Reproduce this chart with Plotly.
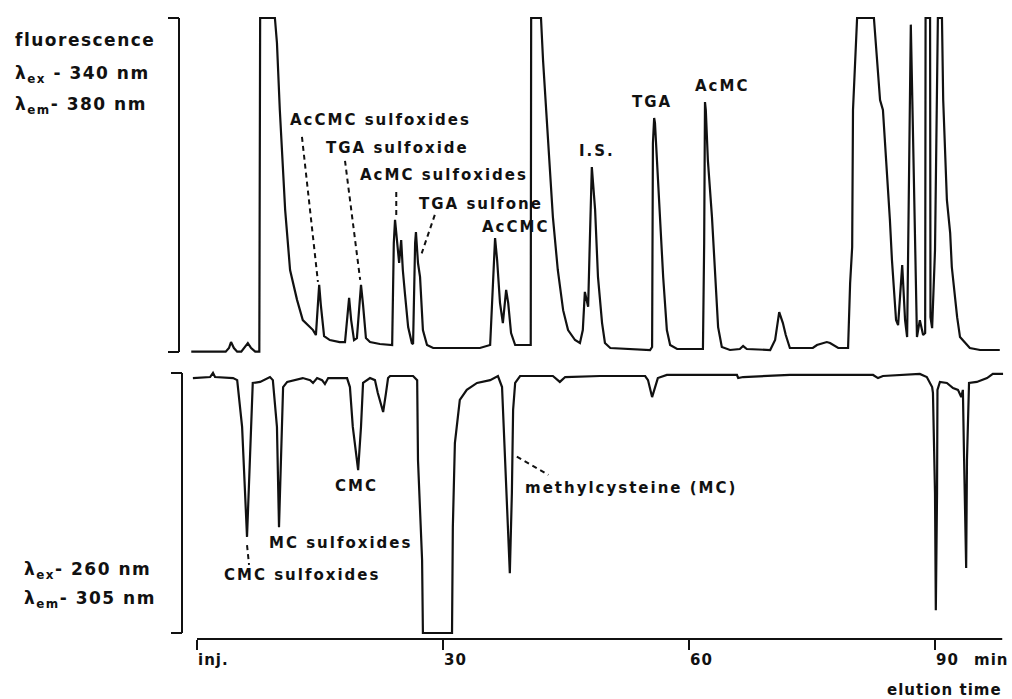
import plotly.graph_objects as go

W, H = 1012, 699
PLOT_H = 639  # plot area height (bottom margin 60)

# ---------------- data: fluorescence trace (upper) ----------------
# elution time in min, signal in % of recorder full scale (100 = off scale)
fl_time = [
    -0.7, 3.5, 3.9, 4.15, 4.5, 4.9, 5.4, 5.85, 6.2, 6.6,
    7.1, 7.6, 7.7, 9.5, 9.75, 10.1, 10.75, 11.35, 12.2, 12.9,
    14.15, 14.5, 14.75, 14.9, 15.1, 15.5, 16.2, 17.4, 18.05, 18.3,
    18.55, 18.8, 19.15, 19.5, 19.75, 20.0, 20.25, 20.6, 21.1, 22.3,
    23.8, 24.0, 24.15, 24.4, 24.65, 24.9, 25.1, 25.35, 25.75, 26.2,
    26.35, 26.6, 26.7, 26.95, 27.2, 27.55, 28.05, 28.8, 34.5, 35.75,
    36.1, 36.35, 36.6, 36.95, 37.3, 37.55, 37.7, 37.95, 38.3, 38.8,
    40.35, 40.7, 40.75, 41.95, 42.2, 42.7, 43.05, 43.4, 44.0, 44.65,
    45.25, 46.1, 46.7, 47.05, 47.3, 47.55, 47.7, 47.9, 48.15, 48.3,
    48.55, 48.9, 49.4, 49.75, 50.4, 55.25, 55.5, 55.6, 55.75, 55.85,
    56.1, 56.45, 56.85, 57.3, 57.7, 58.55, 61.7, 61.85, 61.95, 62.05,
    62.3, 62.8, 63.2, 63.55, 64.0, 65.0, 66.2, 66.6, 67.05, 69.9,
    70.5, 71.0, 71.45, 71.8, 72.3, 75.1, 75.6, 76.8, 77.2, 78.2,
    79.4, 79.65, 79.9, 80.0, 80.5, 82.55, 83.3, 83.65, 84.5, 84.75,
    85.25, 85.5, 86.0, 86.35, 86.6, 86.8, 87.05, 87.3, 87.55, 87.8,
    88.15, 88.55, 88.8, 88.85, 89.4, 89.45, 89.65, 90.0, 90.35, 90.85,
    91.0, 91.45, 91.85, 92.05, 92.7, 93.05, 94.25, 95.5, 97.9,
]
fl_signal = [
    -0.5, -0.5, 0.6, 2.4, 0.6, -0.5, -0.5, 0.9, 2.1, 0.6,
    -0.5, -0.5, 100, 100, 92.5, 72.3, 42.2, 24.1, 15.1, 9.0,
    6.0, 4.5, 15.1, 19.6, 13.6, 4.2, 3.0, 2.4, 2.4, 9.0,
    15.7, 9.0, 3.0, 3.6, 12.0, 19.6, 13.6, 3.6, 2.4, 1.8,
    1.5, 32.2, 39.2, 32.2, 26.2, 33.1, 24.1, 17.2, 6.9, 2.1,
    1.8, 32.2, 35.5, 26.2, 22.0, 6.0, 1.5, 0.6, 0.6, 1.5,
    22.0, 33.7, 27.1, 14.2, 8.1, 16.0, 18.1, 14.2, 5.1, 1.5,
    1.5, 1.5, 100, 100, 87.3, 67.2, 52.1, 40.1, 24.1, 12.0,
    6.0, 3.0, 2.1, 6.0, 17.5, 15.1, 13.0, 32.2, 55.1, 50.3,
    42.2, 22.0, 8.1, 2.1, 0.6, 0.0, 0.9, 62.3, 69.9, 68.4,
    57.2, 42.2, 22.0, 6.0, 1.5, 0.3, 0.3, 32.2, 74.7, 72.3,
    57.2, 40.1, 22.0, 6.9, 0.9, 0.0, 0.3, 1.2, 0.3, 0.0,
    3.0, 11.4, 8.1, 4.5, 0.6, 0.6, 1.5, 2.4, 2.1, 0.6,
    0.6, 20.2, 31.0, 72.3, 100, 100, 75.3, 72.3, 39.2, 27.1,
    9.0, 7.5, 25.6, 9.0, 3.9, 40.0, 98.0, 67.2, 36.0, 3.9,
    9.0, 4.5, 5.1, 100, 100, 9.9, 6.6, 30.0, 100, 100,
    75.3, 45.2, 35.2, 25.0, 9.9, 3.9, 0.6, 0.0, 0.0,
]

# ---------------- data: UV/fluorescence trace (lower, inverted) ----------------
uv_time = [
    -0.5, 1.6, 1.95, 2.2, 4.4, 4.9, 5.5, 5.85, 6.1, 6.45,
    6.7, 6.8, 7.7, 8.9, 9.25, 9.75, 10.0, 10.35, 10.5, 11.0,
    12.9, 13.8, 14.15, 14.65, 15.25, 15.6, 16.0, 18.3, 18.65, 19.0,
    19.65, 20.0, 20.25, 21.1, 21.7, 22.05, 22.7, 23.05, 23.3, 23.55,
    26.35, 26.85, 26.95, 27.45, 27.55, 31.1, 31.2, 31.45, 32.05, 32.9,
    34.15, 35.75, 36.7, 37.2, 37.55, 37.95, 38.15, 38.4, 38.55, 38.8,
    39.4, 43.4, 44.25, 44.9, 49.15, 54.65, 55.0, 55.5, 55.85, 56.2,
    57.3, 65.85, 66.0, 66.6, 72.3, 82.45, 83.05, 83.65, 88.15, 89.0,
    89.65, 89.75, 90.0, 90.1, 90.25, 90.3, 90.6, 91.45, 92.2, 92.8,
    93.2, 93.4, 93.55, 93.8, 93.9, 94.15, 95.1, 96.35, 97.05, 98.3,
]
uv_signal = [
    -0.8, -0.4, 1.2, -0.4, -0.8, -1.6, -19.8, -45.5, -62.6, -32.7,
    -6.6, -2.7, -2.3, -0.4, -1.6, -19.8, -58.8, -19.8, -4.3, -2.3,
    -0.8, -1.6, -2.7, -0.8, -1.6, -3.1, -0.8, -0.8, -4.3, -19.8,
    -36.6, -19.8, -2.7, -0.8, -1.6, -6.6, -14.0, -6.6, -0.8, 0.0,
    0.0, -1.6, -32.7, -71.6, -100, -100, -58.8, -26.1, -9.3, -5.4,
    -2.7, -1.6, 0.0, -4.3, -32.7, -58.8, -76.7, -45.5, -13.2, -2.7,
    0.0, 0.0, -2.3, -0.4, 0.0, 0.0, -1.6, -8.2, -4.3, -0.8,
    0.4, 0.4, -0.8, -0.4, 0.4, 0.4, -0.8, 0.0, 0.8, -0.4,
    -4.3, -6.6, -45.5, -91.1, -45.5, -5.4, -2.3, -2.7, -4.7, -5.4,
    -8.2, -5.4, -32.7, -74.7, -32.7, -2.7, -2.3, -0.8, 0.8, 0.8,
]
assert len(fl_time) == len(fl_signal), (len(fl_time), len(fl_signal))
assert len(uv_time) == len(uv_signal), (len(uv_time), len(uv_signal))

# ---------------- labels ----------------
tick_vals = [0, 30, 60, 90]
tick_text = ["inj.", "30", "60", "90"]

upper_labels = ["AcCMC sulfoxides", "TGA sulfoxide", "AcMC sulfoxides", "TGA sulfone",
                "AcCMC", "I.S.", "TGA", "AcMC"]
upper_label_t = [11.1, 15.5, 19.6, 26.8, 34.5, 46.3, 52.8, 60.5]
upper_label_v = [69.3, 60.8, 52.7, 44.0, 37.0, 59.9, 74.7, 79.5]

lower_labels = ["CMC", "MC sulfoxides", "CMC sulfoxides", "methylcysteine (MC)"]
lower_label_t = [16.6, 8.5, 3.05, 39.75]
lower_label_v = [-42.8, -65.0, -77.4, -43.6]

# leader lines: (t0, v0, t1, v1)
upper_leaders = [(12.8, 64.2, 14.75, 20.5), (18.05, 57.0, 19.9, 21.1),
                 (24.3, 47.6, 24.3, 39.8), (29.0, 40.7, 27.4, 29.1)]
lower_leaders = [(6.1, -65.8, 6.35, -73.5), (39.0, -31.4, 42.85, -38.5)]

# ---------------- layout helpers ----------------
FONT = "DejaVu Sans"
INK = "#111111"


def pxx(p):
    return p / W


def pxy(p):
    return (PLOT_H - p) / PLOT_H


def sp(s, ls):
    return f'<span style="letter-spacing:{ls}px">{s}</span>'


X_T0 = 197.0       # pixel of t = 0
X_SCALE = 8.2      # px per minute
x_lo, x_hi = 186, 1004
xr = [(x_lo - X_T0) / X_SCALE, (x_hi - X_T0) / X_SCALE]

# upper panel: 0 at px 350, 100 at px 18
up_dom_px = (12, 356)
up_s = 3.32
up_range = [-(up_dom_px[1] - 350) / up_s, (350 - up_dom_px[0]) / up_s]
# lower panel: 0 at px 376, -100 at px 633
lo_dom_px = (370, 636)
lo_s = 2.57
lo_range = [-(lo_dom_px[1] - 376) / lo_s, (376 - lo_dom_px[0]) / lo_s]

fig = go.Figure()
line = dict(color=INK, width=2.2)
fig.add_trace(go.Scatter(x=fl_time, y=fl_signal, mode="lines", line=line,
                         xaxis="x", yaxis="y", hoverinfo="skip"))
fig.add_trace(go.Scatter(x=uv_time, y=uv_signal, mode="lines", line=line,
                         xaxis="x", yaxis="y2", hoverinfo="skip"))

annotations = []
lbl_font = dict(family=FONT, size=15, color=INK, weight="bold")
for s, t, v in zip(upper_labels, upper_label_t, upper_label_v):
    annotations.append(dict(text=sp(s, 2), x=t, y=v, xref="x", yref="y",
                            xanchor="left", yanchor="middle", showarrow=False,
                            font=lbl_font))
for s, t, v in zip(lower_labels, lower_label_t, lower_label_v):
    annotations.append(dict(text=sp(s, 2), x=t, y=v, xref="x", yref="y2",
                            xanchor="left", yanchor="middle", showarrow=False,
                            font=lbl_font))

hdr_font = dict(family=FONT, size=17, color=INK, weight="bold")
headers = [
    ("fluorescence", 13, 40),
    ("λ<sub>ex</sub> - 340 nm", 13, 74),
    ("λ<sub>em</sub>- 380 nm", 13, 105),
    ("λ<sub>ex</sub>- 260 nm", 22, 570),
    ("λ<sub>em</sub>- 305 nm", 22, 599),
]
for s, x0, y0 in headers:
    annotations.append(dict(text=sp(s, 1.5), x=pxx(x0), y=pxy(y0), xref="paper",
                            yref="paper", xanchor="left", yanchor="middle",
                            showarrow=False, font=hdr_font))

tick_font = dict(family=FONT, size=15, color=INK, weight="bold")
for tv, tt in zip(tick_vals, tick_text):
    annotations.append(dict(text=sp(tt, 1), x=tv, y=pxy(660), xref="x", yref="paper",
                            xanchor="left", xshift=-1, yanchor="middle",
                            showarrow=False, font=tick_font))
annotations.append(dict(text=sp("min", 1), x=pxx(972), y=pxy(660), xref="paper",
                        yref="paper", xanchor="left", yanchor="middle",
                        showarrow=False, font=tick_font))
annotations.append(dict(text=sp("elution time", 1), x=pxx(1004), y=pxy(690),
                        xref="paper", yref="paper", xanchor="right",
                        yanchor="middle", showarrow=False, font=tick_font))

shapes = []
dash_line = dict(color=INK, width=2, dash="5px,4px")
for t0, v0, t1, v1 in upper_leaders:
    shapes.append(dict(type="line", x0=t0, y0=v0, x1=t1, y1=v1, xref="x",
                       yref="y", line=dash_line))
for t0, v0, t1, v1 in lower_leaders:
    shapes.append(dict(type="line", x0=t0, y0=v0, x1=t1, y1=v1, xref="x",
                       yref="y2", line=dash_line))

# brackets ("]") at the left of each panel
solid = dict(color=INK, width=2)
for bx, top, bot in [(179, 18, 352), (182, 373, 633)]:
    shapes.append(dict(type="line", xref="paper", yref="paper",
                       x0=pxx(bx), x1=pxx(bx), y0=pxy(top), y1=pxy(bot), line=solid))
    shapes.append(dict(type="line", xref="paper", yref="paper",
                       x0=pxx(bx - 11), x1=pxx(bx), y0=pxy(top), y1=pxy(top), line=solid))
    shapes.append(dict(type="line", xref="paper", yref="paper",
                       x0=pxx(bx - 11), x1=pxx(bx), y0=pxy(bot), y1=pxy(bot), line=solid))

# time axis base line
shapes.append(dict(type="line", xref="x", yref="paper", x0=0, x1=98.2, y0=0, y1=0,
                   line=solid))

fig.update_layout(
    width=W, height=H,
    margin=dict(l=0, r=0, t=0, b=H - PLOT_H, pad=0),
    paper_bgcolor="white", plot_bgcolor="rgba(0,0,0,0)",
    showlegend=False,
    template="none",
    xaxis=dict(domain=[pxx(x_lo), pxx(x_hi)], range=xr, anchor="free", position=0,
               showgrid=False, zeroline=False, showline=False,
               ticks="outside", ticklen=10, tickwidth=2, tickcolor=INK,
               tickvals=tick_vals, showticklabels=False, automargin=False,
               fixedrange=True),
    yaxis=dict(domain=[pxy(up_dom_px[1]), pxy(up_dom_px[0])], range=up_range,
               visible=False, fixedrange=True, anchor="x"),
    yaxis2=dict(domain=[pxy(lo_dom_px[1]), pxy(lo_dom_px[0])], range=lo_range,
                visible=False, fixedrange=True, anchor="x"),
    annotations=annotations,
    shapes=shapes,
)

fig.write_html("out.html")
